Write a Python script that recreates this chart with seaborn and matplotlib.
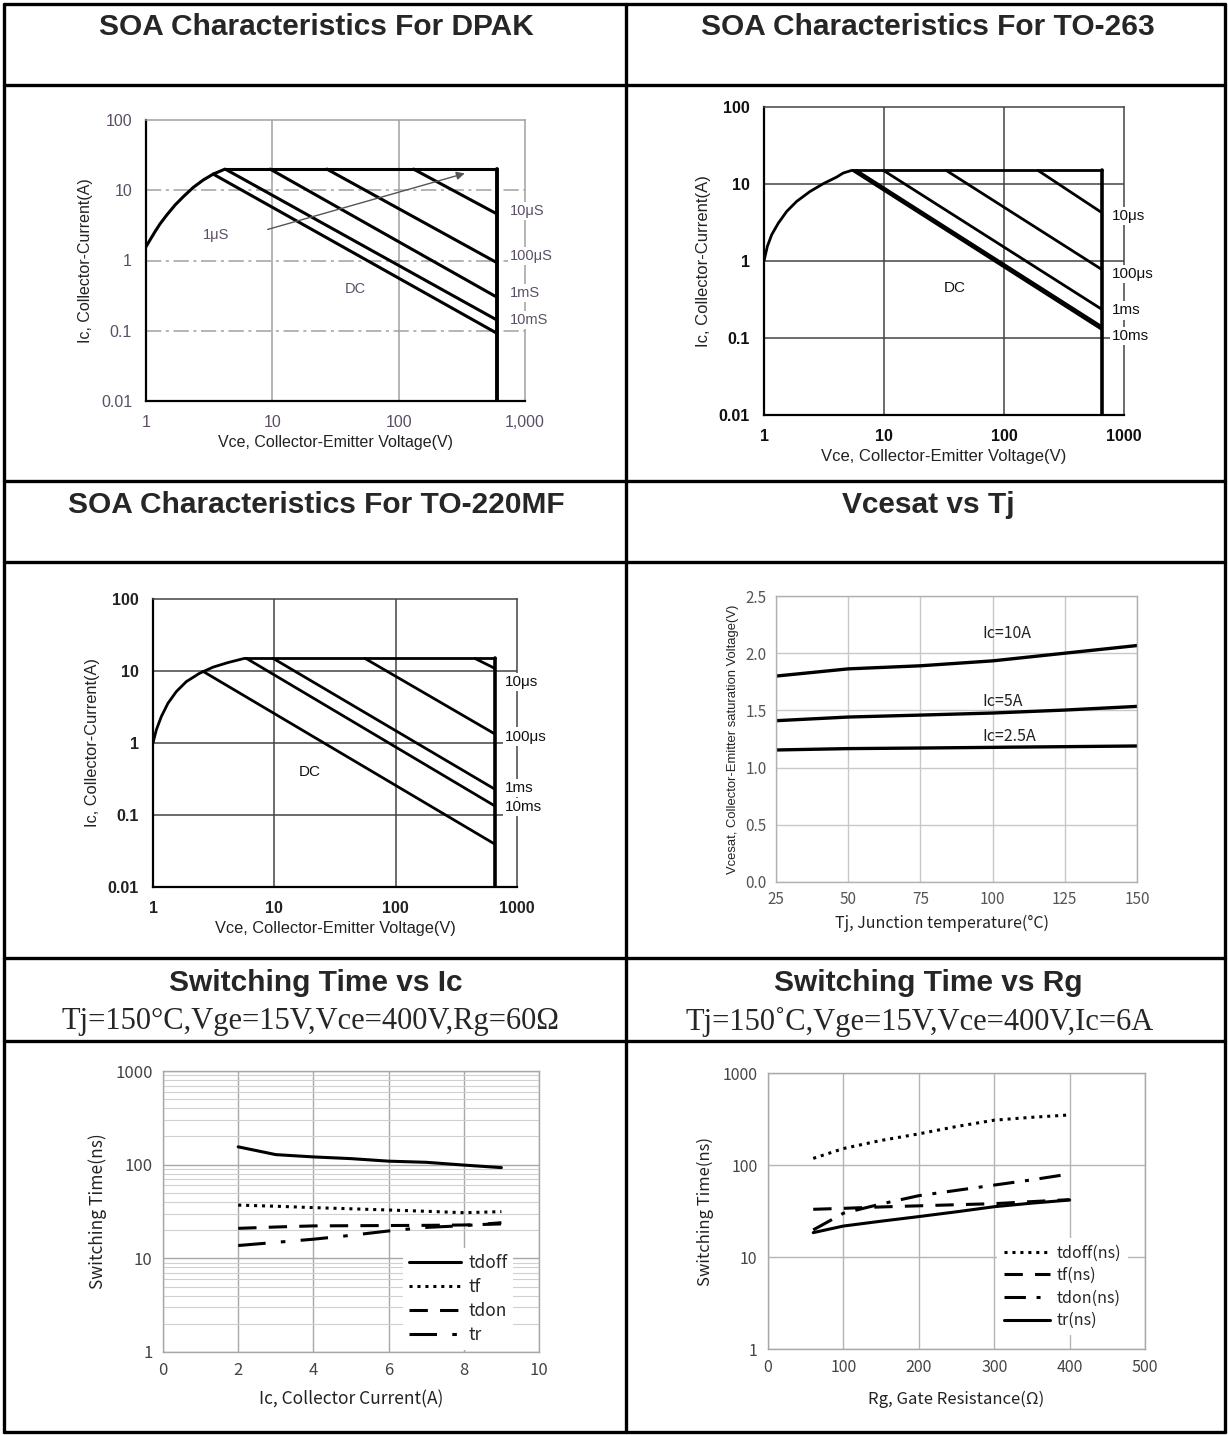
import numpy as np
import pandas as pd
import matplotlib
matplotlib.use("Agg")
import matplotlib.pyplot as plt
import seaborn as sns
from matplotlib.lines import Line2D
from matplotlib.ticker import NullLocator, LogLocator, NullFormatter

# ---------------- DATA ----------------
soa_xticks = [1, 10, 100, 1000]
soa_yticks = [0.01, 0.1, 1, 10, 100]
soa_ytick_labels = ["0.01", "0.1", "1", "10", "100"]
dpak_xtick_labels = ["1", "10", "100", "1,000"]
to_xtick_labels = ["1", "10", "100", "1000"]

# DPAK
dpak_curve_v = [1, 1.076, 1.178, 1.29, 1.46, 1.70, 1.975, 2.37, 2.84, 3.41, 4.22]
dpak_curve_i = [1.57, 1.96, 2.57, 3.31, 4.44, 6.17, 8.1, 11, 14, 17, 20]
dpak_vmax = 600
dpak_imax = 20
dpak_names = ["10μS", "100μS", "1mS", "10mS", "DC"]
dpak_start_v = [131, 27, 9.6, 4.35, 3.4]
dpak_start_i = [20, 20, 20, 19.5, 17]
dpak_end_i = [4.6, 0.93, 0.30, 0.142, 0.092]
dpak_label_y = [5.1, 1.16, 0.34, 0.142]

# TO-263
t263_curve_v = [1, 1.066, 1.158, 1.316, 1.545, 1.87, 2.42, 3.12, 4.03, 4.58, 5.37]
t263_curve_i = [1.0, 1.545, 2.19, 3.1, 4.4, 5.94, 8.0, 10.1, 12.3, 13.9, 15]
t263_vmax = 650
t263_imax = 15
t263_names = ["10μs", "100μs", "1ms", "10ms", "DC"]
t263_start_v = [192, 33, 9.9, 5.9, 5.5]
t263_start_i = [15, 15, 15, 15, 15]
t263_end_i = [4.27, 0.78, 0.237, 0.141, 0.13]
t263_label_y = [3.87, 0.675, 0.228, 0.106]

# TO-220MF
t220_curve_v = [1, 1.065, 1.171, 1.329, 1.557, 1.883, 2.42, 3.12, 4.15, 5.7]
t220_curve_i = [1.0, 1.52, 2.33, 3.57, 5.18, 7.13, 9.3, 11.3, 13.1, 15]
t220_vmax = 655
t220_imax = 15
t220_names = ["10μs", "100μs", "1ms", "10ms", "DC"]
t220_start_v = [448, 55.6, 9.75, 5.88, 2.58]
t220_start_i = [15, 15, 15, 15, 9.9]
t220_end_i = [10.9, 1.34, 0.229, 0.134, 0.0395]
t220_label_y = [7.0, 1.23, 0.236, 0.129]

# Vcesat vs Tj
tj = [25, 50, 75, 100, 125, 150]
vce_10a = [1.80, 1.863, 1.89, 1.933, 2.0, 2.067]
vce_5a = [1.41, 1.442, 1.459, 1.477, 1.503, 1.535]
vce_25a = [1.154, 1.166, 1.171, 1.177, 1.183, 1.189]
vce_labels = ["Ic=10A", "Ic=5A", "Ic=2.5A"]

# Switching time vs Ic
ic = [2, 3, 4, 5, 6, 7, 8, 9]
ic_tdoff = [155, 128, 121, 116, 109, 106, 99, 93]
ic_tf = [37, 36, 34.8, 33.8, 32.8, 31.8, 30.7, 31.5]
ic_tdon = [20.9, 21.6, 22.2, 22.3, 22.4, 22.5, 22.7, 23.3]
ic_tr = [13.7, 14.8, 16, 17.6, 19.6, 21.4, 22.3, 24]
ic_names = ["tdoff", "tf", "tdon", "tr"]

# Switching time vs Rg
rg = [60, 100, 150, 200, 250, 300, 350, 400]
rg_tdon_x = [60, 100, 150, 200, 250, 300, 350, 390]
rg_tdoff = [118, 151, 185, 218, 262, 307, 330, 350]
rg_tf = [33, 33.8, 35, 36, 37, 38, 40, 42]
rg_tdon = [19.7, 29.9, 37.7, 46.4, 53, 60.5, 69, 77.6]
rg_tr = [18.4, 21.7, 24.5, 27.5, 31, 35.2, 38.5, 41.6]
rg_names = ["tdoff(ns)", "tf(ns)", "tdon(ns)", "tr(ns)"]

titles = ["SOA Characteristics For DPAK", "SOA Characteristics For TO-263",
          "SOA Characteristics For TO-220MF", "Vcesat vs Tj",
          "Switching Time vs Ic", "Switching Time vs Rg"]
subtitles = ["Tj=150°C,Vge=15V,Vce=400V,Rg=60Ω", "Tj=150˚C,Vge=15V,Vce=400V,Ic=6A"]

# ---------------- FIGURE ----------------
sns.set_theme(style="white")
plt.rcParams["font.family"] = ["Liberation Sans", "DejaVu Sans"]
W, H = 1228, 1435
fig = plt.figure(figsize=(W / 100, H / 100), dpi=100)
fig.patch.set_facecolor("white")


def ax_at(l, t, r, b):
    return fig.add_axes([l / W, 1 - b / H, (r - l) / W, (b - t) / H])


def hline(y, x0=4, x1=1225, lw=2.4):
    fig.add_artist(Line2D([x0 / W, x1 / W], [1 - y / H, 1 - y / H], color="black", lw=lw))


def vline(x, y0=4, y1=1432, lw=2.4):
    fig.add_artist(Line2D([x / W, x / W], [1 - y0 / H, 1 - y1 / H], color="black", lw=lw))


# table
for y in [4, 85, 481, 562, 958, 1041, 1432]:
    hline(y)
for x in [4, 626, 1225]:
    vline(x)

tfont = dict(family=["Liberation Sans", "DejaVu Sans"], weight="bold", size=21.5)
sfont = dict(family=["Liberation Serif", "DejaVu Serif"], size=22)
fig.text(316 / W, 1 - 27 / H, titles[0], ha="center", va="center", **tfont)
fig.text(928 / W, 1 - 27 / H, titles[1], ha="center", va="center", **tfont)
fig.text(316 / W, 1 - 505 / H, titles[2], ha="center", va="center", **tfont)
fig.text(928 / W, 1 - 505 / H, titles[3], ha="center", va="center", **tfont)
fig.text(316 / W, 1 - 983 / H, titles[4], ha="center", va="center", **tfont)
fig.text(928 / W, 1 - 983 / H, titles[5], ha="center", va="center", **tfont)
fig.text(311 / W, 1 - 1022 / H, subtitles[0], ha="center", va="center", **sfont)
fig.text(920 / W, 1 - 1022 / H, subtitles[1], ha="center", va="center", **sfont)


def line(ax, x, y, **kw):
    sns.lineplot(x=x, y=y, ax=ax, estimator=None, sort=False, **kw)


def soa(ax, cv, ci, vmax, imax, sv, si, ei, names, label_y, label_x, dc_xy,
        xlabels, gridc, hgrid_ls, tickc, tickw, lsize, lw, labc, labw, fs, axfs):
    ax.set_xscale("log")
    ax.set_yscale("log")
    ax.set_xlim(1, 1000)
    ax.set_ylim(0.01, 100)
    for v in [10, 100]:
        ax.axvline(v, color=gridc, lw=1.1, zorder=1)
    for v in [0.1, 1, 10]:
        ax.axhline(v, color=gridc, lw=1.1, ls=hgrid_ls, zorder=1)
    line(ax, cv, ci, color="black", lw=lw)
    line(ax, [cv[-1], vmax], [imax, imax], color="black", lw=lw)
    line(ax, [vmax, vmax], [imax, 0.01], color="black", lw=lw + 0.6)
    for k in range(len(names)):
        line(ax, [sv[k], vmax], [si[k], ei[k]], color="black", lw=lw)
    for k in range(4):
        ax.text(label_x, label_y[k], names[k], ha="left", va="center", fontsize=fs,
                color=labc, fontweight=labw, zorder=6, clip_on=False,
                bbox=dict(facecolor="white", edgecolor="none", pad=1.5))
    ax.text(dc_xy[0], dc_xy[1], names[4], ha="center", va="center", fontsize=fs,
            color=labc, fontweight=labw)
    ax.set_xticks(soa_xticks, labels=xlabels)
    ax.set_yticks(soa_yticks, labels=soa_ytick_labels)
    ax.xaxis.set_minor_locator(NullLocator())
    ax.yaxis.set_minor_locator(NullLocator())
    ax.tick_params(length=0, labelsize=lsize, colors=tickc, pad=10)
    for t in ax.get_xticklabels() + ax.get_yticklabels():
        t.set_fontweight(tickw)
    ax.set_xlabel("Vce, Collector-Emitter Voltage(V)", fontsize=axfs, color="#222", labelpad=4)
    ax.set_ylabel("Ic, Collector-Current(A)", fontsize=axfs, color="#222", labelpad=6)
    for s in ["left", "bottom"]:
        ax.spines[s].set_color("black")
        ax.spines[s].set_linewidth(1.6)
    for s in ["top", "right"]:
        ax.spines[s].set_color(gridc)
        ax.spines[s].set_linewidth(1.1)
    ax.set_facecolor("white")


# DPAK
ax1 = ax_at(146, 120, 525, 401)
soa(ax1, dpak_curve_v, dpak_curve_i, dpak_vmax, dpak_imax, dpak_start_v, dpak_start_i,
    dpak_end_i, dpak_names, dpak_label_y, 760, (45, 0.39), dpak_xtick_labels,
    "#a0a0a0", (0, (10, 3, 2, 3)), "#5b4f66", "normal", 11.5, 2.2, "#5b4f66", "normal", 10.5, 11.5)
ax1.text(3.6, 2.3, "1μS", ha="center", va="center", fontsize=10.5, color="#5b4f66")
ax1.annotate("", xy=(350, 17.8), xytext=(8.75, 2.7),
             arrowprops=dict(arrowstyle="-|>", color="#555555", lw=1.0, mutation_scale=12))

# TO-263
ax2 = ax_at(764, 107, 1124, 415)
soa(ax2, t263_curve_v, t263_curve_i, t263_vmax, t263_imax, t263_start_v, t263_start_i,
    t263_end_i, t263_names, t263_label_y, 790, (39, 0.44), to_xtick_labels,
    "#444444", "-", "#111111", "bold", 11.5, 2.0, "#111111", "normal", 11, 12)

# TO-220MF
ax3 = ax_at(153, 599, 517, 887)
soa(ax3, t220_curve_v, t220_curve_i, t220_vmax, t220_imax, t220_start_v, t220_start_i,
    t220_end_i, t220_names, t220_label_y, 800, (19.5, 0.4), to_xtick_labels,
    "#444444", "-", "#222222", "bold", 11.5, 2.0, "#111111", "normal", 11, 11.8)

# Vcesat vs Tj
kfam = ["Noto Sans CJK KR", "DejaVu Sans"]
ax4 = ax_at(776, 596, 1137, 882)
ax4.set_xlim(25, 150)
ax4.set_ylim(0, 2.5)
ax4.set_xticks(tj)
ax4.set_yticks([0, 0.5, 1.0, 1.5, 2.0, 2.5], labels=["0.0", "0.5", "1.0", "1.5", "2.0", "2.5"])
ax4.grid(True, color="#c8c8c8", lw=1.0)
for yv in [vce_10a, vce_5a, vce_25a]:
    line(ax4, tj, yv, color="black", lw=2.4)
for txt, yy in zip(vce_labels, [2.17, 1.576, 1.276]):
    ax4.text(96.5, yy, txt, ha="left", va="center", fontsize=11.5, color="#222", family=kfam)
ax4.tick_params(length=3, colors="#555555", labelsize=11, width=0.8)
for t in ax4.get_xticklabels() + ax4.get_yticklabels():
    t.set_family(kfam)
ax4.set_xlabel("Tj, Junction temperature(°C)", fontsize=11.5, color="#222", family=kfam, labelpad=4)
ax4.xaxis.set_label_coords(0.46, -0.115)
ax4.set_ylabel("Vcesat, Collector-Emitter saturation Voltage(V)", fontsize=9.4, color="#222", labelpad=5)
for s in ax4.spines.values():
    s.set_color("#b0b0b0")
    s.set_linewidth(1.0)

styles = ["-", (0, (1, 1.6)), (0, (6, 4)), (0, (9, 5, 1.5, 5))]

# Switching Time vs Ic
ax5 = ax_at(163, 1071, 539, 1352)
ax5.set_yscale("log")
ax5.set_xlim(0, 10)
ax5.set_ylim(1, 1000)
ax5.set_xticks([0, 2, 4, 6, 8, 10])
ax5.set_yticks([1, 10, 100, 1000], labels=["1", "10", "100", "1000"])
ax5.yaxis.set_minor_locator(LogLocator(base=10, subs=np.arange(2, 10)))
ax5.yaxis.set_minor_formatter(NullFormatter())
ax5.grid(True, which="major", color="#a8a8a8", lw=1.0)
ax5.grid(True, which="minor", axis="y", color="#d0d0d0", lw=0.8)
for yv, ls, nm in zip([ic_tdoff, ic_tf, ic_tdon, ic_tr], styles, ic_names):
    line(ax5, ic, yv, color="black", lw=2.2, linestyle=ls, label=nm)
leg = ax5.legend(loc="lower right", bbox_to_anchor=(0.955, -0.025), frameon=True, fancybox=False,
                 handlelength=3.0, labelspacing=0.35, borderpad=0.35, handletextpad=0.4,
                 prop=dict(family=kfam, size=12.5))
leg.get_frame().set_facecolor("white")
leg.get_frame().set_edgecolor("none")
leg.get_frame().set_alpha(1)
ax5.tick_params(which="major", length=4, colors="#444444", labelsize=12, width=0.8)
ax5.tick_params(which="minor", length=0)
for t in ax5.get_xticklabels() + ax5.get_yticklabels():
    t.set_family(kfam)
ax5.set_xlabel("Ic, Collector Current(A)", fontsize=12.5, color="#222", family=kfam, labelpad=8)
ax5.set_ylabel("Switching Time(ns)", fontsize=12.5, color="#222", family=kfam, labelpad=6)
for s in ax5.spines.values():
    s.set_color("#a8a8a8")
    s.set_linewidth(1.0)

# Switching Time vs Rg
ax6 = ax_at(768, 1073, 1145, 1349)
ax6.set_yscale("log")
ax6.set_xlim(0, 500)
ax6.set_ylim(1, 1000)
ax6.set_xticks([0, 100, 200, 300, 400, 500])
ax6.set_yticks([1, 10, 100, 1000], labels=["1", "10", "100", "1000"])
ax6.yaxis.set_minor_locator(NullLocator())
ax6.grid(True, which="major", color="#b4b4b4", lw=1.0)
rg_styles = [(0, (1, 1.6)), (0, (6, 4)), (0, (7, 3.5, 1.3, 3.5)), "-"]
for xv, yv, ls, nm in zip([rg, rg, rg_tdon_x, rg], [rg_tdoff, rg_tf, rg_tdon, rg_tr], rg_styles, rg_names):
    line(ax6, xv, yv, color="black", lw=2.2, linestyle=ls, label=nm)
leg = ax6.legend(loc="lower right", bbox_to_anchor=(0.975, 0.02), frameon=True, fancybox=False,
                 handlelength=2.9, labelspacing=0.35, borderpad=0.4, handletextpad=0.4,
                 prop=dict(family=kfam, size=11.5))
leg.get_frame().set_facecolor("white")
leg.get_frame().set_edgecolor("none")
leg.get_frame().set_alpha(1)
ax6.tick_params(length=4, colors="#444444", labelsize=11.5, width=0.8)
for t in ax6.get_xticklabels() + ax6.get_yticklabels():
    t.set_family(kfam)
ax6.set_xlabel("Rg, Gate Resistance(Ω)", fontsize=12, color="#222", family=kfam, labelpad=10)
ax6.set_ylabel("Switching Time(ns)", fontsize=12, color="#222", family=kfam, labelpad=6)
for s in ax6.spines.values():
    s.set_color("#a8a8a8")
    s.set_linewidth(1.0)

fig.savefig("out.png", dpi=100, facecolor="white")
